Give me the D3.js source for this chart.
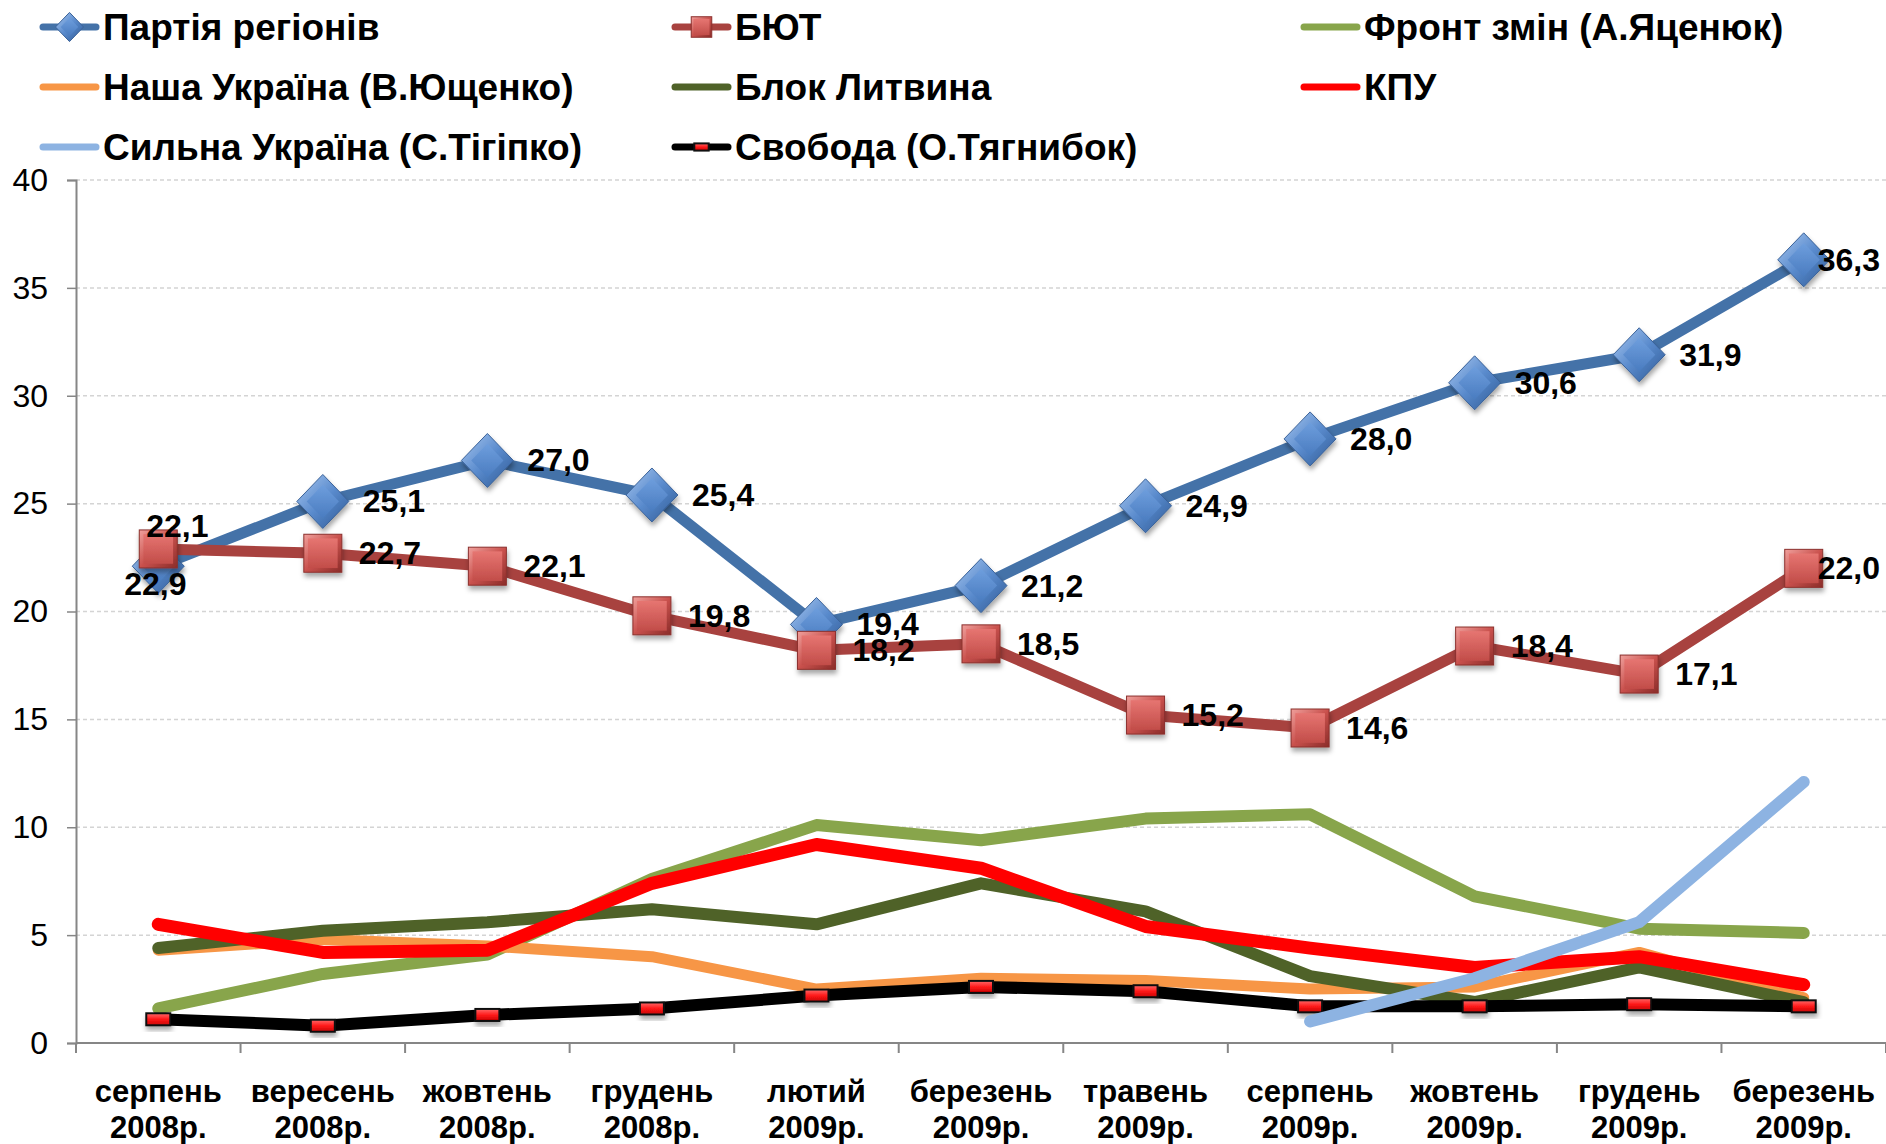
<!DOCTYPE html>
<html>
<head>
<meta charset="utf-8">
<script src="https://cdn.jsdelivr.net/npm/d3@7"></script>
<style>
  body { margin: 0; background: #fff; }
  svg text { font-family: "Liberation Sans", Arial, sans-serif; fill: #000; }
</style>
</head>
<body>
<script>
// ---------------------- DATA ----------------------

const months = ["серпень", "вересень", "жовтень", "грудень", "лютий", "березень",
                "травень", "серпень", "жовтень", "грудень", "березень"];
const years = ["2008р.", "2008р.", "2008р.", "2008р.", "2009р.", "2009р.",
               "2009р.", "2009р.", "2009р.", "2009р.", "2009р."];

const partiyaRegioniv = [22.1, 25.1, 27.0, 25.4, 19.4, 21.2, 24.9, 28.0, 30.6, 31.9, 36.3];
const byut            = [22.9, 22.7, 22.1, 19.8, 18.2, 18.5, 15.2, 14.6, 18.4, 17.1, 22.0];
const frontZmin       = [1.6, 3.2, 4.1, 7.6, 10.1, 9.4, 10.4, 10.6, 6.8, 5.3, 5.1];
const nashaUkraina    = [4.3, 4.8, 4.5, 4.0, 2.5, 3.0, 2.9, 2.5, 2.6, 4.2, 2.1];
const blokLytvyna     = [4.4, 5.2, 5.6, 6.2, 5.5, 7.4, 6.1, 3.1, 1.9, 3.5, 1.9];
const kpu             = [5.5, 4.2, 4.3, 7.4, 9.2, 8.1, 5.4, 4.4, 3.5, 4.0, 2.7];
const sylnaUkraina    = [null, null, null, null, null, null, null, 1.0, 3.0, 5.6, 12.1];
const svoboda         = [1.1, 0.8, 1.3, 1.6, 2.2, 2.6, 2.4, 1.7, 1.7, 1.8, 1.7];

const yTicks = [0, 5, 10, 15, 20, 25, 30, 35, 40];

// legend order (row by row, 3 columns)
const legendOrder = ["Партія регіонів", "БЮТ", "Фронт змін (А.Яценюк)",
                     "Наша Україна (В.Ющенко)", "Блок Литвина", "КПУ",
                     "Сильна Україна (С.Тігіпко)", "Свобода (О.Тягнибок)"];

// ---------------------- SETUP ----------------------

const W = 1886, H = 1144;
const plot = { left: 76, right: 1886, top: 180, bottom: 1043 };

const svg = d3.select("body").append("svg")
    .attr("width", W)
    .attr("height", H);

svg.append("rect").attr("width", W).attr("height", H).attr("fill", "#fff");

const x = d3.scaleBand()
    .domain(d3.range(months.length))
    .range([plot.left, plot.right]);
const cx = i => x(i) + x.bandwidth() / 2;

const y = d3.scaleLinear()
    .domain([0, 40])
    .range([plot.bottom, plot.top]);

const fmt = v => d3.format(".1f")(v).replace(".", ",");

// series styles, drawn in this order (later on top)
const series = [
    { name: "Фронт змін (А.Яценюк)",     values: frontZmin,       color: "#88a54b", width: 12 },
    { name: "Наша Україна (В.Ющенко)",   values: nashaUkraina,    color: "#f79646", width: 11 },
    { name: "Блок Литвина",              values: blokLytvyna,     color: "#4f6228", width: 12 },
    { name: "КПУ",                       values: kpu,             color: "#ff0000", width: 13 },
    { name: "Свобода (О.Тягнибок)",      values: svoboda,         color: "#000000", width: 12, marker: "rect" },
    { name: "Сильна Україна (С.Тігіпко)", values: sylnaUkraina,   color: "#8db3e2", width: 12 },
    { name: "Партія регіонів",           values: partiyaRegioniv, color: "#4472a8", width: 11, marker: "diamond", labels: true },
    { name: "БЮТ",                       values: byut,            color: "#a8423f", width: 11, marker: "square", labels: true }
];

// ---------------------- DEFS ----------------------

const defs = svg.append("defs");

function linGrad(id, stops, x2 = 0, y2 = 1) {
    const g = defs.append("linearGradient").attr("id", id)
        .attr("x1", 0).attr("y1", 0).attr("x2", x2).attr("y2", y2);
    stops.forEach((c, k) => g.append("stop")
        .attr("offset", k / (stops.length - 1)).attr("stop-color", c));
}
linGrad("diaOuter", ["#a9c8f0", "#5a8bcd", "#2c5894"], 1, 1);
linGrad("diaInner", ["#6e9edd", "#4a7cc0"]);
linGrad("sqOuter", ["#f0a09c", "#c9514d", "#8a2c29"], 1, 1);
linGrad("sqInner", ["#e67571", "#c24d49"]);
linGrad("svRect", ["#ff6a6a", "#ff1a1a", "#c80000"]);

const shadow = defs.append("filter").attr("id", "shadow")
    .attr("x", "-50%").attr("y", "-50%").attr("width", "200%").attr("height", "200%");
shadow.append("feDropShadow")
    .attr("dx", 1).attr("dy", 4).attr("stdDeviation", 2.5)
    .attr("flood-color", "#000").attr("flood-opacity", 0.35);

// ---------------------- MARKERS ----------------------

function drawMarker(g, type, scale) {
    if (type === "diamond") {
        const h = 26 * scale, v = 27 * scale;
        g.append("path").attr("d", `M0,${-v}L${h},0L0,${v}L${-h},0Z`)
            .attr("fill", "url(#diaOuter)").attr("stroke", "#3a6299").attr("stroke-width", 1);
        const hi = h * 0.62, vi = v * 0.62;
        g.append("path").attr("d", `M0,${-vi}L${hi},0L0,${vi}L${-hi},0Z`)
            .attr("fill", "url(#diaInner)");
    } else if (type === "square") {
        const s = 19 * scale;
        g.append("rect").attr("x", -s).attr("y", -s).attr("width", 2 * s).attr("height", 2 * s)
            .attr("fill", "url(#sqOuter)").attr("stroke", "#8b302d").attr("stroke-width", 1);
        const si = s * 0.78;
        g.append("rect").attr("x", -si).attr("y", -si).attr("width", 2 * si).attr("height", 2 * si)
            .attr("fill", "url(#sqInner)");
    } else if (type === "rect") {
        const w = 12 * scale, hh = 6 * scale;
        g.append("rect").attr("x", -w).attr("y", -hh).attr("width", 2 * w).attr("height", 2 * hh)
            .attr("fill", "url(#svRect)").attr("stroke", "#111").attr("stroke-width", 2);
    }
}

// ---------------------- GRID & AXES ----------------------

svg.append("g").selectAll("line")
    .data(yTicks.filter(t => t > 0))
    .enter().append("line")
    .attr("x1", plot.left).attr("x2", plot.right)
    .attr("y1", d => y(d)).attr("y2", d => y(d))
    .attr("stroke", "#d4d4d4").attr("stroke-width", 1.5)
    .attr("stroke-dasharray", "4,3");

const yAxis = svg.append("g")
    .attr("transform", `translate(${plot.left},0)`)
    .call(d3.axisLeft(y).tickValues(yTicks).tickSize(9).tickPadding(19).tickFormat(d3.format("d")));
yAxis.select(".domain").attr("stroke", "#868686").attr("stroke-width", 2);
yAxis.selectAll(".tick line").attr("stroke", "#868686").attr("stroke-width", 1.5);
yAxis.selectAll(".tick text")
    .attr("font-family", "Liberation Sans, Arial, sans-serif")
    .attr("font-size", 32).attr("fill", "#000");

// x axis line + ticks at category boundaries
const xAxis = svg.append("g");
xAxis.append("line")
    .attr("x1", plot.left).attr("x2", plot.right)
    .attr("y1", y(0)).attr("y2", y(0))
    .attr("stroke", "#868686").attr("stroke-width", 2);
xAxis.selectAll(".xtick")
    .data(d3.range(months.length + 1))
    .enter().append("line")
    .attr("class", "xtick")
    .attr("x1", i => plot.left + i * x.step()).attr("x2", i => plot.left + i * x.step())
    .attr("y1", y(0)).attr("y2", y(0) + 10)
    .attr("stroke", "#868686").attr("stroke-width", 2);

const catLabels = xAxis.selectAll(".cat")
    .data(months)
    .enter().append("text")
    .attr("class", "cat")
    .attr("text-anchor", "middle")
    .attr("font-size", 31)
    .attr("font-weight", "bold");
catLabels.append("tspan").attr("x", (d, i) => cx(i)).attr("y", 1102).text(d => d);
catLabels.append("tspan").attr("x", (d, i) => cx(i)).attr("y", 1138).text((d, i) => years[i]);

// ---------------------- LINES ----------------------

const line = d3.line()
    .defined(d => d != null)
    .x((d, i) => cx(i))
    .y(d => y(d));

series.forEach(s => {
    const g = svg.append("g").attr("class", "series");
    g.append("path")
        .datum(s.values)
        .attr("d", line)
        .attr("fill", "none")
        .attr("stroke", s.color)
        .attr("stroke-width", s.width)
        .attr("stroke-linejoin", "round")
        .attr("stroke-linecap", "round");

    if (s.marker) {
        s.values.forEach((v, i) => {
            if (v == null) return;
            const m = g.append("g")
                .attr("transform", `translate(${cx(i)},${y(v)})`)
                .attr("filter", "url(#shadow)");
            drawMarker(m, s.marker, 1);
        });
    }
});

// ---------------------- DATA LABELS ----------------------

// first category labels were moved by hand in the original (above / below the points)
const firstLabelOffset = { "Партія регіонів": [-12, -29], "БЮТ": [-34, 46] };

const labelLayer = svg.append("g");
series.filter(s => s.labels).forEach(s => {
    s.values.forEach((v, i) => {
        const t = labelLayer.append("text")
            .attr("font-size", 32)
            .attr("font-weight", "bold")
            .text(fmt(v));
        let lx, ly;
        if (i === 0) {
            lx = cx(i) + firstLabelOffset[s.name][0];
            ly = y(v) + firstLabelOffset[s.name][1];
        } else {
            lx = cx(i) + (s.marker === "diamond" ? 40 : 36);
            ly = y(v) + 11;
        }
        const w = t.node().getComputedTextLength();
        lx = Math.min(lx, plot.right - 6 - w);
        t.attr("x", lx).attr("y", ly);
    });
});

// ---------------------- LEGEND ----------------------

const legCols = [41, 673, 1302];
const legRows = [27, 87, 147];
const legLen = 57;

const byName = {};
series.forEach(s => byName[s.name] = s);

legendOrder.forEach((name, k) => {
    const s = byName[name];
    const lx = legCols[k % 3], ly = legRows[Math.floor(k / 3)];
    const g = svg.append("g").attr("transform", `translate(${lx},${ly})`);
    g.append("line")
        .attr("x1", 2).attr("x2", legLen - 2)
        .attr("stroke", s.color).attr("stroke-width", 7)
        .attr("stroke-linecap", "round");
    if (s.marker) {
        const m = g.append("g").attr("transform", `translate(${legLen / 2},0)`);
        drawMarker(m, s.marker, s.marker === "rect" ? 0.6 : 0.54);
    }
    g.append("text")
        .attr("x", legLen + 5)
        .attr("y", 13)
        .attr("font-size", 37)
        .attr("font-weight", "bold")
        .text(name);
});
</script>
</body>
</html>
